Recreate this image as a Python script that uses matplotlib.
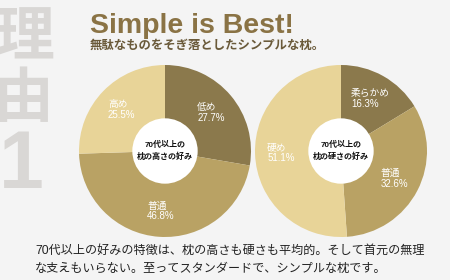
import numpy as np
import matplotlib
matplotlib.use('Agg')
import matplotlib.pyplot as plt
import matplotlib.patches as patches

# ── データ ────────────────────────────────────────────────
HEIGHT_LABELS = ['低め', '普通', '高め']
HEIGHT_VALUES = [27.7, 46.8, 25.5]
HARD_LABELS   = ['柔らかめ', '普通', '硬め']
HARD_VALUES   = [16.3, 32.6, 51.1]
CENTER_TITLES = ['70代以上の\n枕の高さの好み', '70代以上の\n枕の硬さの好み']

# ── スタイル ──────────────────────────────────────────────
W, H = 450, 280
BG = '#F4F4F4'
COLORS = ['#8B794C', '#B9A264', '#E8D498']
JP = ['Liberation Sans', 'Noto Sans CJK JP']
HOLE = 0.38          # 内側の白丸 (半径比)
LABEL_R = 0.70       # ラベル位置 (半径比)

fig = plt.figure(figsize=(W / 100, H / 100), dpi=100, facecolor=BG)

# ピクセル座標のオーバーレイ
bg = fig.add_axes([0, 0, 1, 1])
bg.set_xlim(0, W)
bg.set_ylim(H, 0)
bg.axis('off')

# 背景の大きな縦書き「理由1」
bg.text(24, 38, '理', family=['Noto Sans CJK JP'], fontsize=43, fontweight='bold',
        color='#D9D7D5', ha='center', va='center')
bg.text(24, 100, '由', family=['Noto Sans CJK JP'], fontsize=43, fontweight='bold',
        color='#D9D7D5', ha='center', va='center')
bg.text(21, 167, '1', family=['Liberation Sans'], fontsize=58, fontweight='bold',
        color='#D9D7D5', ha='center', va='center')

# タイトル
bg.text(90, 33, 'Simple is Best!', family=['Liberation Sans'], fontsize=20.5,
        fontweight='bold', color='#8A7345', ha='left', va='baseline')
bg.text(90, 46, '無駄なものをそぎ落としたシンプルな枕。', family=JP, fontsize=8.9,
        fontweight='bold', color='#6A5A3A', ha='left', va='center')

# 本文
bg.text(35, 251, '70代以上の好みの特徴は、枕の高さも硬さも平均的。そして首元の無理',
        family=JP, fontsize=8.7, color='#222222', ha='left', va='center')
bg.text(35, 269, 'な支えもいらない。至ってスタンダードで、シンプルな枕です。',
        family=JP, fontsize=8.7, color='#222222', ha='left', va='center')


def donut(cx, cy, r, labels, values, center_title):
    ax = fig.add_axes([(cx - r) / W, (H - cy - r) / H, 2 * r / W, 2 * r / H])
    wedges, _ = ax.pie(values, colors=COLORS, startangle=90, counterclock=False,
                       radius=1, wedgeprops=dict(linewidth=0))
    ax.add_patch(patches.Circle((0, 0), HOLE, facecolor='white', edgecolor='none'))
    for w, lab, val in zip(wedges, labels, values):
        ang = np.deg2rad((w.theta1 + w.theta2) / 2)
        ax.text(LABEL_R * np.cos(ang), LABEL_R * np.sin(ang), f'{lab}\n{val:.1f}%',
                family=JP, fontsize=7, color='white', ha='center', va='center',
                multialignment='left', linespacing=1.1)
    ax.text(0, 0, center_title, family=JP, fontsize=5.8, fontweight='bold',
            color='#111111', ha='center', va='center', linespacing=1.5)
    ax.set_xlim(-1, 1)
    ax.set_ylim(-1, 1)
    ax.set_aspect('equal')
    ax.axis('off')


donut(165, 151, 86, HEIGHT_LABELS, HEIGHT_VALUES, CENTER_TITLES[0])
donut(341, 151, 86, HARD_LABELS, HARD_VALUES, CENTER_TITLES[1])

fig.savefig('out.png', dpi=100, facecolor=BG)
